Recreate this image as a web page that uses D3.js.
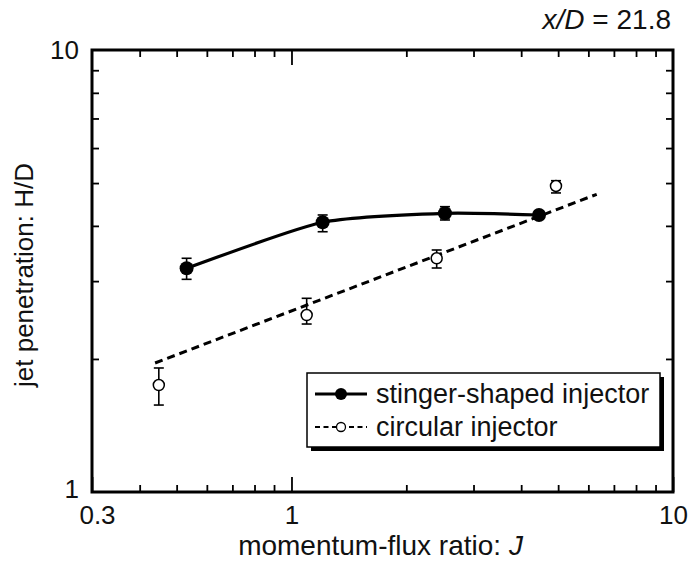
<!DOCTYPE html>
<html><head><meta charset="utf-8">
<script src="https://cdn.jsdelivr.net/npm/d3@7/dist/d3.min.js"></script>
<style>
body{margin:0;background:#fff;}
svg{display:block;font-family:"Liberation Sans",Arial,Helvetica,sans-serif;}
</style></head>
<body><svg id="c" width="689" height="562"></svg>
<script>
// ---- data ----
const stingerJ   = [0.531, 1.207, 2.525, 4.455];
const stingerH   = [3.207, 4.076, 4.271, 4.234];
const stingerLo  = [3.028, 3.880, 4.125, 4.150];
const stingerHi  = [3.379, 4.234, 4.421, 4.320];
const circularJ  = [0.449, 1.096, 2.402, 4.935];
const circularH  = [1.746, 2.514, 3.379, 4.924];
const circularLo = [1.573, 2.399, 3.212, 4.749];
const circularHi = [1.908, 2.743, 3.528, 5.062];
const fitJ = [0.439, 6.31];
const fitH = [1.958, 4.716];
const xMajor = [0.3, 1, 10];
const xMinor = [0.4,0.5,0.6,0.7,0.8,0.9,2,3,4,5,6,7,8,9];
const yMajor = [1, 10];
const yMinor = [2,3,4,5,6,7,8,9];
const legendLabels = ["stinger-shaped injector", "circular injector"];

// ---- layout ----
const L = 92, R = 673, T = 50, B = 492;
const svg = d3.select("#c");
const x = d3.scaleLog().domain([0.3, 10]).range([L, R]);
const y = d3.scaleLog().domain([1, 10]).range([B, T]);
const fs = 26;

function styleAxis(g){
  g.select(".domain").remove();
  g.selectAll(".tick line").attr("stroke","#000").attr("stroke-width",1.8);
  g.selectAll(".tick text").attr("fill","#111").style("font-size",fs+"px");
}
// bottom
svg.append("g").attr("transform",`translate(0,${B})`)
  .call(d3.axisBottom(x).tickValues(xMinor).tickSizeInner(-7).tickSizeOuter(0).tickFormat(""))
  .call(styleAxis);
svg.append("g").attr("transform",`translate(0,${B})`)
  .call(d3.axisBottom(x).tickValues(xMajor).tickSizeInner(-15).tickSizeOuter(0).tickPadding(14).tickFormat(d3.format("~g")))
  .call(styleAxis)
  .call(g=>g.selectAll(".tick text").filter(d=>d===0.3).attr("dx",5));
// top
svg.append("g").attr("transform",`translate(0,${T})`)
  .call(d3.axisTop(x).tickValues(xMinor).tickSizeInner(-7).tickSizeOuter(0).tickFormat(""))
  .call(styleAxis);
svg.append("g").attr("transform",`translate(0,${T})`)
  .call(d3.axisTop(x).tickValues([1]).tickSizeInner(-15).tickSizeOuter(0).tickFormat(""))
  .call(styleAxis);
// left
svg.append("g").attr("transform",`translate(${L},0)`)
  .call(d3.axisLeft(y).tickValues(yMinor).tickSizeInner(-7).tickSizeOuter(0).tickFormat(""))
  .call(styleAxis);
svg.append("g").attr("transform",`translate(${L},0)`)
  .call(d3.axisLeft(y).tickValues(yMajor).tickSizeInner(0).tickSizeOuter(0).tickPadding(13).tickFormat(d3.format("~g")))
  .call(styleAxis)
  .call(g=>g.selectAll(".tick text").filter(d=>d===1).attr("dy","0.22em"));
// right
svg.append("g").attr("transform",`translate(${R},0)`)
  .call(d3.axisRight(y).tickValues(yMinor).tickSizeInner(-7).tickSizeOuter(0).tickFormat(""))
  .call(styleAxis);

// frame
svg.append("rect").attr("x",L).attr("y",T).attr("width",R-L).attr("height",B-T)
  .attr("fill","none").attr("stroke","#000").attr("stroke-width",3);

// fit line (circular)
const fitPts = fitJ.map((j,i)=>[j, fitH[i]]);
svg.append("path").datum(fitPts)
  .attr("d", d3.line().x(d=>x(d[0])).y(d=>y(d[1])))
  .attr("fill","none").attr("stroke","#000").attr("stroke-width",3).attr("stroke-dasharray","8,5");

// stinger curve
const stPts = stingerJ.map((j,i)=>[j, stingerH[i]]);
svg.append("path").datum(stPts)
  .attr("d", d3.line().x(d=>x(d[0])).y(d=>y(d[1])).curve(d3.curveCardinal.tension(0.4)))
  .attr("fill","none").attr("stroke","#000").attr("stroke-width",3.2);

// error bars
function errBars(J, lo, hi){
  const g = svg.append("g").attr("stroke","#000").attr("stroke-width",1.6);
  J.forEach((j,i)=>{
    const cx = x(j);
    g.append("line").attr("x1",cx).attr("x2",cx).attr("y1",y(lo[i])).attr("y2",y(hi[i]));
    g.append("line").attr("x1",cx-5).attr("x2",cx+5).attr("y1",y(lo[i])).attr("y2",y(lo[i]));
    g.append("line").attr("x1",cx-5).attr("x2",cx+5).attr("y1",y(hi[i])).attr("y2",y(hi[i]));
  });
}
errBars(circularJ, circularLo, circularHi);
errBars(stingerJ, stingerLo, stingerHi);

svg.append("g").selectAll("circle").data(circularJ).join("circle")
  .attr("cx",d=>x(d)).attr("cy",(d,i)=>y(circularH[i])).attr("r",5.5)
  .attr("fill","#fff").attr("stroke","#000").attr("stroke-width",1.5);
svg.append("g").selectAll("circle").data(stingerJ).join("circle")
  .attr("cx",d=>x(d)).attr("cy",(d,i)=>y(stingerH[i])).attr("r",7)
  .attr("fill","#000");

// legend
const lx = 307, ly = 373, lw = 353, lh = 74;
svg.append("rect").attr("x",lx+4).attr("y",ly+4).attr("width",lw).attr("height",lh).attr("fill","#000");
svg.append("rect").attr("x",lx).attr("y",ly).attr("width",lw).attr("height",lh)
  .attr("fill","#fff").attr("stroke","#000").attr("stroke-width",1.5);
const legY = [394, 427];
svg.append("line").attr("x1",315).attr("x2",367).attr("y1",legY[0]).attr("y2",legY[0])
  .attr("stroke","#000").attr("stroke-width",3);
svg.append("circle").attr("cx",341).attr("cy",legY[0]).attr("r",6).attr("fill","#000");
svg.append("line").attr("x1",315).attr("x2",367).attr("y1",legY[1]).attr("y2",legY[1])
  .attr("stroke","#000").attr("stroke-width",2).attr("stroke-dasharray","5,3.5");
svg.append("circle").attr("cx",341).attr("cy",legY[1]).attr("r",4.5).attr("fill","#fff")
  .attr("stroke","#000").attr("stroke-width",1.3);
legendLabels.forEach((t,i)=>{
  svg.append("text").attr("x",376).attr("y",legY[i]+9).text(t)
    .style("font-size","27px").attr("fill","#111");
});

// titles
svg.append("text").attr("x",(L+R)/2 - 2).attr("y",555).attr("text-anchor","middle")
  .style("font-size","28px").attr("fill","#111")
  .call(t=>{t.append("tspan").text("momentum-flux ratio: ");t.append("tspan").attr("font-style","italic").text("J");});
svg.append("text").attr("transform",`translate(33,${(T+B)/2+4}) rotate(-90)`).attr("text-anchor","middle")
  .style("font-size",fs+"px").attr("fill","#111").text("jet penetration: H/D");
svg.append("text").attr("x",671).attr("y",29).attr("text-anchor","end")
  .style("font-size","28px").attr("fill","#111")
  .call(t=>{t.append("tspan").attr("font-style","italic").text("x/D");t.append("tspan").text(" = 21.8");});
</script></body></html>
